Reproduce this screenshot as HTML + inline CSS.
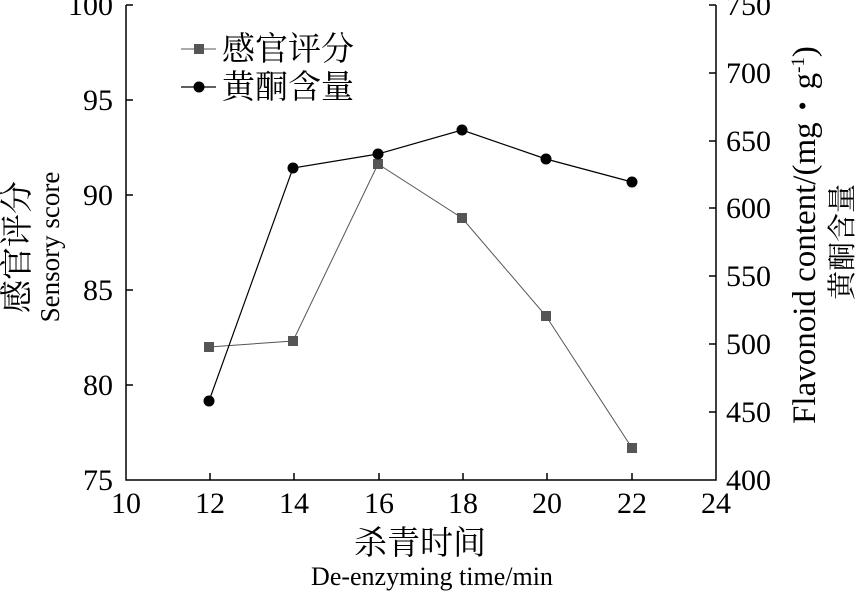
<!DOCTYPE html><html><head><meta charset="utf-8"><style>body{margin:0;background:#fff}</style></head><body>
<svg width="859" height="593" viewBox="0 0 859 593" xmlns="http://www.w3.org/2000/svg" font-family="Liberation Serif, Noto Serif CJK SC, serif" fill="#000">
<g stroke="#000" stroke-width="1.5" fill="none">
<path d="M126 5V480H716V5"/>
<path d="M126 100h7M126 195h7M126 290h7M126 385h7M126 5h7"/>
<path d="M716 5h-7M716 73h-7M716 141h-7M716 208h-7M716 276h-7M716 344h-7M716 412h-7"/>
<path d="M210 480v-7M294 480v-7M379 480v-7M463 480v-7M547 480v-7M632 480v-7"/>
</g>
<g font-size="30" text-anchor="end">
<text x="113" y="15">100</text><text x="113" y="110">95</text><text x="113" y="205">90</text><text x="113" y="300">85</text><text x="113" y="395">80</text><text x="113" y="490">75</text>
</g>
<g font-size="30">
<text x="726" y="15">750</text><text x="726" y="83">700</text><text x="726" y="151">650</text><text x="726" y="218">600</text><text x="726" y="286">550</text><text x="726" y="354">500</text><text x="726" y="422">450</text><text x="726" y="490">400</text>
</g>
<g font-size="30" text-anchor="middle">
<text x="126" y="513">10</text><text x="210" y="513">12</text><text x="294" y="513">14</text><text x="379" y="513">16</text><text x="463" y="513">18</text><text x="547" y="513">20</text><text x="632" y="513">22</text><text x="716" y="513">24</text>
<text x="420" y="554" font-size="33">杀青时间</text>
<text x="432" y="585" font-size="26">De-enzyming time/min</text>
</g>
<g text-anchor="middle">
<text transform="translate(28,247) rotate(-90)" font-size="33">感官评分</text>
<text transform="translate(59,247) rotate(-90)" font-size="27">Sensory score</text>
<text transform="translate(815,235) rotate(-90)" font-size="33">Flavonoid content/(mg・g<tspan dy="-11" font-size="19">-1</tspan><tspan dy="11">)</tspan></text>
<text transform="translate(852,242) rotate(-90)" font-size="29">黄酮含量</text>
</g>
<polyline points="209,347 293,341 378,164 462,218 546,316 632,448" fill="none" stroke="#555" stroke-width="1"/>
<g fill="#555"><rect x="204" y="342" width="10" height="10"/><rect x="288" y="336" width="10" height="10"/><rect x="373" y="159" width="10" height="10"/><rect x="457" y="213" width="10" height="10"/><rect x="541" y="311" width="10" height="10"/><rect x="627" y="443" width="10" height="10"/></g>
<polyline points="209,401 293,168 378,154 462,130 546,159 632,182" fill="none" stroke="#000" stroke-width="1.2"/>
<g><circle cx="209" cy="401" r="5.5"/><circle cx="293" cy="168" r="5.5"/><circle cx="378" cy="154" r="5.5"/><circle cx="462" cy="130" r="5.5"/><circle cx="546" cy="159" r="5.5"/><circle cx="632" cy="182" r="5.5"/></g>
<line x1="181" y1="49" x2="216" y2="49" stroke="#555" stroke-width="1"/><rect x="194" y="44" width="10" height="10" fill="#555"/>
<line x1="181" y1="87" x2="216" y2="87" stroke="#000" stroke-width="1.2"/><circle cx="199" cy="87" r="5.5"/>
<text x="222" y="60" font-size="33">感官评分</text>
<text x="222" y="98" font-size="33">黄酮含量</text>
</svg>
</body></html>
